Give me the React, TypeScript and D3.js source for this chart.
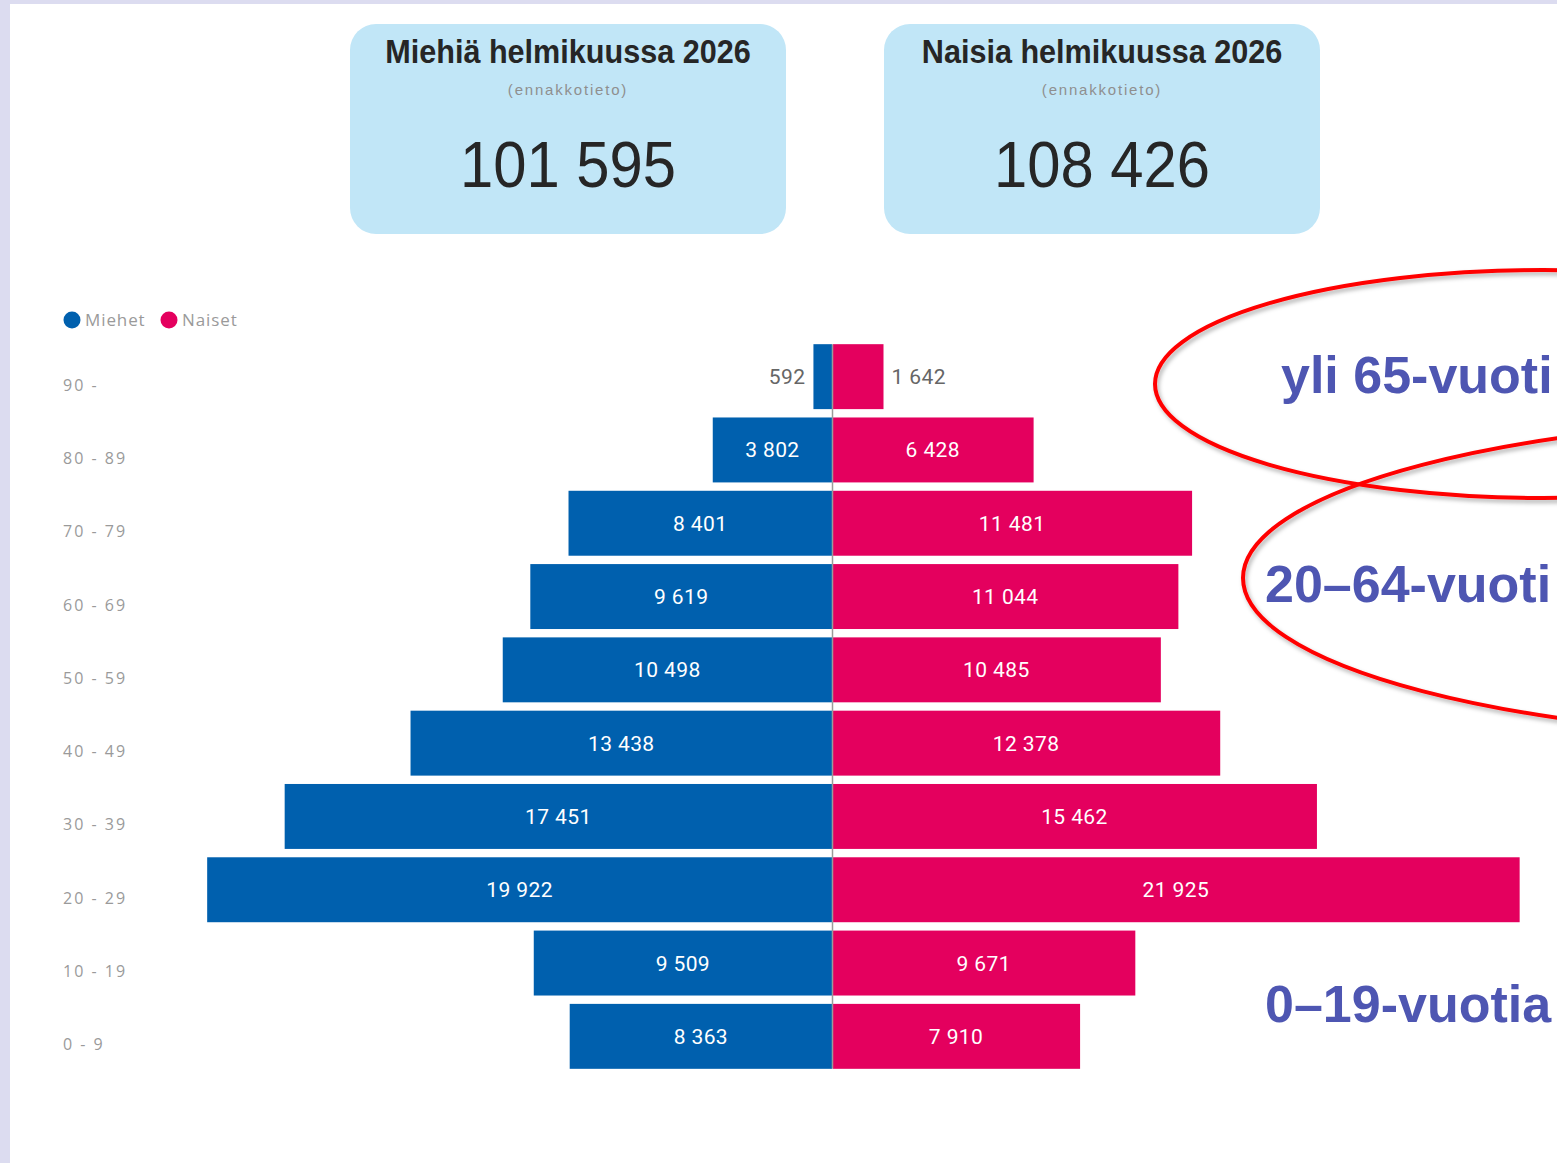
import * as d3 from 'd3';

const ageGroups = ['90 -', '80 - 89', '70 - 79', '60 - 69', '50 - 59', '40 - 49', '30 - 39', '20 - 29', '10 - 19', '0 - 9'];
const menValues = [592, 3802, 8401, 9619, 10498, 13438, 17451, 19922, 9509, 8363];
const womenValues = [1642, 6428, 11481, 11044, 10485, 12378, 15462, 21925, 9671, 7910];

const cards = [
  { title: 'Miehiä helmikuussa 2026', total: '101 595' },
  { title: 'Naisia helmikuussa 2026', total: '108 426' },
];
const seriesNames = ['Miehet', 'Naiset'];
// annotation texts, as far as they show before the right edge
const annotations = ['yli 65-vuoti', '20–64-vuoti', '0–19-vuotia'];

const colors = {
  men: '#0060AE',
  women: '#E4005E',
  card: '#C1E6F7',
  axisText: '#9a9a9a',
  annotation: '#4E56B2',
  ring: '#FF0000',
};

const fmt = (v: number) => d3.format(',')(v).replace(/,/g, ' ');

const W = 1557;
const H = 1163;
const CENTER = 832;

const x = d3.scaleLinear().domain([-22000, 22000]).range([CENTER - 690, CENTER + 690]);
const y = d3.scaleBand<string>().domain(ageGroups).range([340, 1073]).paddingInner(0.114).paddingOuter(0.057);

const App = () => {
  const bw = y.bandwidth();
  const labelFont = 'Roboto, "Noto Sans", sans-serif';

  return (
    <div style={{ position: 'absolute', left: 0, top: 0 }}>
      <svg width={W} height={H} style={{ display: 'block' }}>
        <defs>
          <filter id="shadow" x="-10%" y="-10%" width="120%" height="130%">
            <feDropShadow dx="2" dy="3" stdDeviation="2" floodColor="#000" floodOpacity="0.3" />
          </filter>
        </defs>
        <rect width={W} height={H} fill="#ffffff" />
        <rect x={0} y={0} width={W} height={4} fill="#DCDCF0" />
        <rect x={0} y={0} width={10} height={H} fill="#DCDCF0" />

        {/* summary cards */}
        {cards.map((c, i) => {
          const cx = i === 0 ? 568 : 1102;
          return (
            <g key={c.title}>
              <rect x={cx - 218} y={24} width={436} height={210} rx={26} fill={colors.card} />
              <text transform={`translate(${cx},63) scale(0.9,1)`} textAnchor="middle"
                fontFamily='"Liberation Sans", Arial, sans-serif' fontWeight="bold" fontSize={34} fill="#262626">
                {c.title}
              </text>
              <text x={cx} y={95} textAnchor="middle" fontFamily='"Liberation Sans", Arial, sans-serif'
                fontSize={15} letterSpacing={1.8} fill="#8f8f8f">
                (ennakkotieto)
              </text>
              <text transform={`translate(${cx},187) scale(0.92,1)`} textAnchor="middle"
                fontFamily='"Liberation Sans", Arial, sans-serif' fontSize={65} fill="#262626">
                {c.total}
              </text>
            </g>
          );
        })}

        {/* legend */}
        {seriesNames.map((n, i) => {
          const lx = i === 0 ? 72 : 169;
          return (
            <g key={n}>
              <circle cx={lx} cy={320} r={8.5} fill={i === 0 ? colors.men : colors.women} />
              <text x={lx + 13} y={326} fontFamily='"Open Sans", sans-serif' fontSize={17} letterSpacing={0.9}
                fill={colors.axisText}>{n}</text>
            </g>
          );
        })}

        {/* category labels */}
        {ageGroups.map((g) => (
          <text key={g} x={63} y={(y(g) ?? 0) + bw / 2 + 14} fontFamily='"Open Sans", sans-serif'
            fontSize={16} letterSpacing={2} fill={colors.axisText}>
            {g}
          </text>
        ))}

        {/* bars */}
        {ageGroups.map((g, i) => {
          const top = y(g) ?? 0;
          const m = menValues[i];
          const w = womenValues[i];
          const mx = x(-m);
          const wx = x(w);
          const inside = m > 2000;
          const cy = top + bw / 2 + 7.5;
          return (
            <g key={g}>
              <rect x={mx} y={top} width={CENTER - mx} height={bw} fill={colors.men} />
              <rect x={CENTER + 1} y={top} width={wx - CENTER - 1} height={bw} fill={colors.women} />
              {inside ? (
                <>
                  <text x={(mx + CENTER) / 2} y={cy} textAnchor="middle" fontFamily={labelFont} fontSize={21}
                    letterSpacing={0.4} fill="#ffffff">{fmt(m)}</text>
                  <text x={(wx + CENTER) / 2} y={cy} textAnchor="middle" fontFamily={labelFont} fontSize={21}
                    letterSpacing={0.4} fill="#ffffff">{fmt(w)}</text>
                </>
              ) : (
                <>
                  <text x={mx - 8} y={cy} textAnchor="end" fontFamily={labelFont} fontSize={21}
                    letterSpacing={0.4} fill="#666666">{fmt(m)}</text>
                  <text x={wx + 8} y={cy} textAnchor="start" fontFamily={labelFont} fontSize={21}
                    letterSpacing={0.4} fill="#666666">{fmt(w)}</text>
                </>
              )}
            </g>
          );
        })}
        <line x1={CENTER + 0.5} x2={CENTER + 0.5} y1={y(ageGroups[0]) ?? 0}
          y2={(y(ageGroups[ageGroups.length - 1]) ?? 0) + bw} stroke="#9a9a9a" strokeWidth={1.5} />

        {/* annotations */}
        <g filter="url(#shadow)" fill="none" stroke={colors.ring} strokeWidth={4}>
          <ellipse cx={1543} cy={384} rx={388} ry={114} />
          <ellipse cx={1855} cy={578} rx={612} ry={160} />
        </g>
        <g fontFamily='"Liberation Sans", Arial, sans-serif' fontWeight="bold" fontSize={52} fill={colors.annotation}>
          <text x={1281} y={393}>{annotations[0]}</text>
          <text x={1265} y={602}>{annotations[1]}</text>
          <text x={1265} y={1022}>{annotations[2]}</text>
        </g>
      </svg>
    </div>
  );
};

export default App;
